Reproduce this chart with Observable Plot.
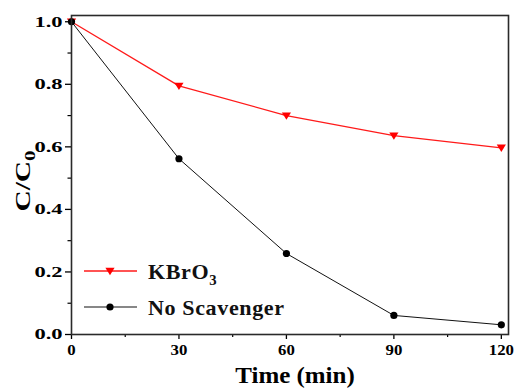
<!DOCTYPE html>
<html><head><meta charset="utf-8">
<script src="https://cdn.jsdelivr.net/npm/d3@7"></script>
<script src="https://cdn.jsdelivr.net/npm/@observablehq/plot@0.6"></script>
<style>
body{margin:0;background:#fff}
</style>
</head><body><div id="chart"></div>
<script>
// ---- data ----
const time = [0, 30, 60, 90, 120];
const kbro3 = [1.0, 0.795, 0.700, 0.636, 0.597];
const noScavenger = [1.0, 0.562, 0.259, 0.061, 0.031];
const xTicks = [0, 30, 60, 90, 120];
const xMinorTicks = [15, 45, 75, 105];
const yTicks = [0, 0.2, 0.4, 0.6, 0.8, 1.0];
const yMinorTicks = [0.1, 0.3, 0.5, 0.7, 0.9];
const seriesLabels = [["KBrO", "3"], ["No Scavenger", ""]];
const xTitle = "Time (min)";
const yTitle = ["C/C", "0"];

const FONT = '"Liberation Serif", "Times New Roman", serif';
const kData = time.map((t, i) => ({t, v: kbro3[i]}));
const nData = time.map((t, i) => ({t, v: noScavenger[i]}));

// downward triangle symbol
const triDown = {
  draw(ctx, size) {
    const r = Math.sqrt(size / Math.PI);
    ctx.moveTo(-r * 1.15, -r * 0.8);
    ctx.lineTo(r * 1.15, -r * 0.8);
    ctx.lineTo(0, r * 1.05);
    ctx.closePath();
  }
};

const plot = Plot.plot({
  width: 514,
  height: 390,
  marginLeft: 71,
  marginRight: 6,
  marginTop: 15,
  marginBottom: 56,
  style: {fontFamily: FONT, background: "#fff"},
  x: {domain: [0, 122], label: null},
  y: {domain: [0, 1.02], label: null},
  marks: [
    Plot.axisY(yTicks, {tickSize: 6, tickPadding: 3, tickFormat: d => d.toFixed(1), fontSize: 15.5, fontWeight: "bold", label: null, strokeWidth: 1.3, fill: "#000"}),
    Plot.axisY(yMinorTicks, {tickSize: 3.5, tickFormat: () => "", label: null, strokeWidth: 1.2}),
    Plot.axisX(xTicks, {tickSize: 5, tickPadding: 5, tickFormat: d => String(d), fontSize: 15, fontWeight: "bold", label: null, strokeWidth: 1.3, fill: "#000"}),
    Plot.axisX(xMinorTicks, {tickSize: 3, tickFormat: () => "", label: null, strokeWidth: 1.2}),
    Plot.line(kData, {x: "t", y: "v", stroke: "#ff1a1a", strokeWidth: 1.3}),
    Plot.dot(kData, {x: "t", y: "v", symbol: triDown, r: 4, fill: "#ff0000", stroke: "none"}),
    Plot.line(nData, {x: "t", y: "v", stroke: "#111", strokeWidth: 1}),
    Plot.dot(nData, {x: "t", y: "v", r: 3.6, fill: "#000", stroke: "none"}),
    Plot.frame({stroke: "#2a2a2a", strokeWidth: 1.6})
  ]
});

document.getElementById("chart").appendChild(plot);
const svg = d3.select(plot);
svg.selectAll("text").attr("font-family", FONT);

// stretch tick labels horizontally like the original rendering
function stretch(sel, s) {
  sel.each(function() {
    const el = d3.select(this);
    const tr = el.attr("transform");
    if (tr) el.attr("transform", tr + ` scale(${s},1)`);
    else {
      const x = +el.attr("x") || 0, y = +el.attr("y") || 0;
      el.attr("x", null).attr("y", null).attr("transform", `translate(${x},${y}) scale(${s},1)`);
    }
  });
}
stretch(svg.selectAll('g[aria-label="y-axis tick label"] text'), 1.45);
stretch(svg.selectAll('g[aria-label="x-axis tick label"] text'), 1.12);

// axis titles
svg.append("text")
  .attr("transform", "translate(295,383) scale(1.04,1)")
  .attr("text-anchor", "middle")
  .attr("font-family", FONT)
  .attr("font-size", 24).attr("font-weight", "bold").attr("fill", "#000")
  .text(xTitle);

const yl = svg.append("text")
  .attr("transform", "translate(30,181) rotate(-90) scale(1.4,1)")
  .attr("text-anchor", "middle")
  .attr("font-family", FONT)
  .attr("font-size", 21).attr("font-weight", "bold").attr("fill", "#000");
yl.append("tspan").text(yTitle[0]);
yl.append("tspan").attr("font-size", 15).attr("dy", 5).text(yTitle[1]);

// legend
const legendRows = [
  {y: 271, color: "#ff1a1a", sym: "tri", label: seriesLabels[0]},
  {y: 307, color: "#111", sym: "dot", label: seriesLabels[1]}
];
const lg = svg.append("g");
legendRows.forEach(row => {
  lg.append("line").attr("x1", 84).attr("x2", 137).attr("y1", row.y).attr("y2", row.y)
    .attr("stroke", row.color).attr("stroke-width", row.sym === "tri" ? 1.3 : 1.2);
  if (row.sym === "tri") {
    const p = d3.path();
    triDown.draw(p, Math.PI * 16);
    lg.append("path").attr("d", p.toString()).attr("transform", `translate(110,${row.y})`).attr("fill", "#ff0000");
  } else {
    lg.append("circle").attr("cx", 110).attr("cy", row.y).attr("r", 3.6).attr("fill", "#000");
  }
  const t = lg.append("text")
    .attr("transform", `translate(148,${row.y + 8}) scale(1.05,1)`)
    .attr("text-anchor", "start")
    .attr("font-family", FONT)
    .attr("font-size", 21).attr("font-weight", "bold").attr("fill", "#111")
    .attr("letter-spacing", 0.6);
  t.append("tspan").text(row.label[0]);
  if (row.label[1]) t.append("tspan").attr("font-size", 14).attr("dy", 6).text(row.label[1]);
});
</script>
</body></html>
